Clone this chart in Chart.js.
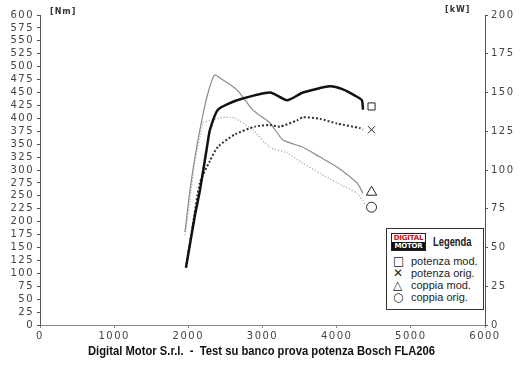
<!DOCTYPE html>
<html>
<head>
<meta charset="utf-8">
<script src="https://cdn.jsdelivr.net/npm/chart.js@4"></script>
<style>
  body { margin: 0; background: #fff; }
  #wrap { position: relative; width: 520px; height: 367px; }
  #legenda {
    position: absolute; left: 386px; top: 228px; width: 96px; height: 80px;
    border: 1px solid #333; background: #fff;
    font-family: "Liberation Sans", Arial, sans-serif; font-size: 11px; color: #222;
  }
  .logo { position: absolute; left: 4px; top: 4px; width: 33px; border: 1px solid #222; overflow: hidden; }
  .logo div { font: bold 7px "DejaVu Sans", sans-serif; text-align: center; line-height: 8px; letter-spacing: -0.2px; }
  .logo .a { color: #d01010; background: #fff; }
  .logo .b { color: #fff; background: #111; }
  .tit { position: absolute; left: 46px; top: 6px; font: bold 12px "Liberation Sans", sans-serif;
         transform: scaleX(0.78); transform-origin: 0 0; }
  .row { position: absolute; left: 6px; height: 12px; line-height: 12px; white-space: nowrap; }
  .row span { display: inline-block; width: 18px; font-family: "DejaVu Sans", sans-serif; font-size: 12px; }
</style>
</head>
<body>
<div id="wrap">
  <canvas id="grafico" width="520" height="367"></canvas>
  <div id="legenda">
    <div class="logo"><div class="a">DIGITAL</div><div class="b">MOTOR</div></div>
    <div class="tit">Legenda</div>
    <div class="row" style="top:26px"><span>□</span>potenza mod.</div>
    <div class="row" style="top:38px"><span>✕</span>potenza orig.</div>
    <div class="row" style="top:50px"><span>△</span>coppia mod.</div>
    <div class="row" style="top:62px"><span>○</span>coppia orig.</div>
  </div>
</div>
<script>
// dati (giri/min, kW, Nm)
const potModRpm = [1968, 2090, 2157, 2252, 2292, 2400, 2656, 3101, 3330, 3546, 3910, 4085, 4247, 4340, 4355];
const potModKw  = [37, 71, 87, 115, 126, 139, 145, 150, 145, 150, 154, 152, 148, 145, 139];

const potOrigRpm = [1968, 2049, 2157, 2292, 2400, 2629, 2899, 3101, 3236, 3465, 3546, 3775, 4004, 4314, 4355];
const potOrigKw  = [37, 61, 92, 106, 115, 123, 128, 129, 128, 132, 134, 133, 130, 127, 126];

const copModRpm = [1955, 2022, 2113, 2225, 2265, 2319, 2360, 2427, 2656, 2872, 3101, 3276, 3546, 3775, 4004, 4274, 4355];
const copModNm  = [180, 261, 345, 426, 449, 474, 484, 478, 455, 416, 391, 358, 344, 325, 306, 275, 255];

const copOrigRpm = [1955, 2022, 2090, 2157, 2197, 2319, 2494, 2629, 2872, 3101, 3330, 3546, 3775, 4004, 4274, 4382];
const copOrigNm  = [174, 242, 319, 364, 391, 397, 402, 400, 377, 344, 333, 313, 294, 275, 255, 234];

// simboli a fine curva
const simboloRpm = 4470;
const simboloPotMod = 141;
const simboloPotOrig = 126;
const simboloCopMod = 257;
const simboloCopOrig = 228;

const titolo = 'Digital Motor S.r.l.  -  Test su banco prova potenza Bosch FLA206';

function punti(xs, ys) {
  return xs.map((x, i) => ({x: x, y: ys[i]}));
}

function simbolo(stile, r, val, asse) {
  return {
    data: [{x: simboloRpm, y: val}],
    yAxisID: asse,
    showLine: false,
    pointStyle: stile,
    pointRadius: r,
    pointBorderColor: '#222',
    pointBackgroundColor: '#fff',
    pointBorderWidth: 1
  };
}

const testi = {
  id: 'testi',
  beforeDraw(chart) {
    chart.ctx.letterSpacing = '1.5px';
  },
  afterDraw(chart) {
    const ctx = chart.ctx;
    const a = chart.chartArea;
    ctx.save();
    ctx.letterSpacing = '1px';
    ctx.fillStyle = '#333';
    ctx.font = 'bold 8px "DejaVu Sans"';
    ctx.textBaseline = 'middle';
    ctx.textAlign = 'left';
    ctx.fillText('[Nm]', a.left + 10, 12);
    ctx.fillText('[kW]', a.right - 40, 10);

    ctx.letterSpacing = '0px';
    ctx.fillStyle = '#111';
    ctx.font = 'bold 12px "Liberation Sans Narrow", "Liberation Sans", sans-serif';
    const w = ctx.measureText(titolo).width;
    const s = 347 / w;
    ctx.translate(88, 352);
    ctx.scale(s, 1);
    ctx.fillText(titolo, 0, 0);
    ctx.restore();
  }
};

const fontAssi = {family: '"DejaVu Sans"', size: 10};

new Chart(document.getElementById('grafico'), {
  type: 'scatter',
  data: {
    datasets: [
      {
        data: punti(potModRpm, potModKw), yAxisID: 'y1', showLine: true,
        borderColor: '#111', borderWidth: 2.5, pointRadius: 0, tension: 0.2
      },
      {
        data: punti(potOrigRpm, potOrigKw), yAxisID: 'y1', showLine: true,
        borderColor: '#333', borderWidth: 2, borderDash: [2, 2], pointRadius: 0, tension: 0.2
      },
      {
        data: punti(copModRpm, copModNm), yAxisID: 'y', showLine: true,
        borderColor: '#8a8a8a', borderWidth: 1.2, pointRadius: 0, tension: 0.2
      },
      {
        data: punti(copOrigRpm, copOrigNm), yAxisID: 'y', showLine: true,
        borderColor: '#a8a8a8', borderWidth: 1.5, borderDash: [1, 2], pointRadius: 0, tension: 0.2
      },
      simbolo('rect', 5, simboloPotMod, 'y1'),
      simbolo('crossRot', 5, simboloPotOrig, 'y1'),
      simbolo('triangle', 6, simboloCopMod, 'y'),
      simbolo('circle', 5, simboloCopOrig, 'y')
    ]
  },
  options: {
    responsive: false,
    animation: false,
    layout: {padding: {top: 15, bottom: 25, left: 0, right: 0}},
    plugins: {legend: {display: false}, tooltip: {enabled: false}},
    scales: {
      x: {
        type: 'linear', min: 0, max: 6000,
        border: {color: '#888', width: 1},
        grid: {drawOnChartArea: false, tickLength: 3, color: '#888'},
        ticks: {stepSize: 1000, color: '#444', font: fontAssi, padding: 2, maxRotation: 0,
                callback: v => String(v)},
        afterFit(s) { s.height = 17; }
      },
      y: {
        position: 'left', min: 0, max: 600,
        border: {color: '#555', width: 1},
        grid: {drawOnChartArea: false, tickLength: 3, color: '#555'},
        ticks: {stepSize: 25, autoSkip: false, color: '#444', font: fontAssi, padding: 3},
        afterFit(s) { s.width = 40; }
      },
      y1: {
        position: 'right', min: 0, max: 200,
        border: {color: '#555', width: 1},
        grid: {drawOnChartArea: false, tickLength: 3, color: '#555'},
        ticks: {stepSize: 25, autoSkip: false, color: '#444', font: fontAssi, padding: 3},
        afterFit(s) { s.width = 35; }
      }
    }
  },
  plugins: [testi]
});
</script>
</body>
</html>
